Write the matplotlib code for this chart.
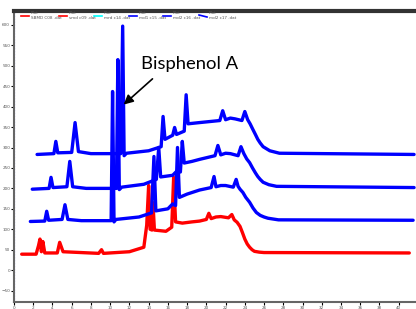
import matplotlib
matplotlib.use('Agg')
import matplotlib.pyplot as plt
from matplotlib.lines import Line2D

# Traces (time in min, signal)
red_t = [0.8, 2.3, 2.55, 2.7, 2.85, 3.0, 3.2, 4.5, 4.75, 5.1, 8.8, 9.1, 9.3, 12.0, 13.5,
         13.8, 14.0, 14.15, 14.35, 14.45, 14.6, 15.8, 16.4, 16.6, 16.8, 17.5, 18.5, 19.3, 20.0,
         20.26, 20.5, 21.0, 21.5, 22.3, 22.65, 22.9, 23.2, 23.5, 23.75, 24.0, 24.25, 24.5,
         24.75, 25.0, 25.5, 26.0, 41.1]
red_v = [39, 39, 60, 76, 45, 70, 42, 42, 68, 45, 41, 50, 41, 45, 56,
         110, 207, 100, 98, 165, 98, 95, 105, 227, 118, 115, 118, 120, 124,
         139, 126, 130, 131, 128, 136, 123, 117, 107, 92, 76, 64, 56,
         50, 46, 44, 43, 42]

b3_t = [1.7, 3.2, 3.4, 3.6, 5.0, 5.3, 5.6, 7.0, 10.1, 10.25, 10.4, 10.6, 13.0, 14.3,
        14.55, 14.75, 16.0, 16.5, 16.8, 17.0, 17.2, 18.0, 19.3, 20.5, 20.8, 21.0, 21.5, 22.0,
        22.8, 23.1, 23.3, 23.5, 23.8, 24.1, 24.5, 24.85, 25.2, 25.6, 26.0, 26.4, 27.5, 41.5]
b3_v = [119, 120, 144, 122, 124, 160, 124, 121, 121, 437, 118, 124, 130, 140,
        278, 145, 150, 162, 158, 300, 178, 186, 196, 202, 229, 204, 207, 207,
        203, 222, 205, 198, 190, 178, 166, 152, 141, 134, 130, 127, 123, 122]

b2_t = [1.9, 3.65, 3.85, 4.05, 5.5, 5.8, 6.1, 7.5, 10.65, 10.8, 10.95, 11.2, 13.5, 14.8,
        15.05, 15.25, 16.5, 17.0, 17.3, 17.5, 17.7, 18.5, 19.3, 20.9, 21.2, 21.5, 22.0, 22.5,
        23.3, 23.6, 23.9, 24.2, 24.5, 24.8, 25.1, 25.35, 25.6, 25.9, 26.5, 27.3, 41.6]
b2_v = [198, 200, 227, 202, 204, 266, 204, 200, 200, 515, 197, 203, 210, 222,
        300, 228, 232, 244, 240, 315, 262, 266, 271, 280, 305, 282, 286, 285,
        280, 302, 285, 272, 263, 250, 238, 229, 222, 215, 209, 205, 202]

b1_t = [2.4, 4.15, 4.35, 4.55, 6.0, 6.35, 6.7, 8.0, 11.1, 11.3, 11.45, 11.7, 14.0, 15.3,
        15.5, 15.7, 16.5, 16.7, 16.9, 17.7, 17.9, 18.1, 19.3, 21.4, 21.7, 22.0, 22.5, 23.0,
        23.7, 24.0, 24.3, 24.55, 24.8, 25.1, 25.35, 25.6, 25.9, 26.6, 27.6, 41.6]
b1_v = [283, 285, 315, 287, 288, 361, 290, 285, 285, 597, 280, 286, 292, 302,
        376, 320, 330, 349, 332, 340, 429, 358, 361, 366, 390, 368, 372, 370,
        366, 388, 368, 358, 346, 332, 320, 311, 302, 292, 286, 283]

legend_labels = ['Plot\nSBMD C08 .dat', 'Plot\nsmd c09 .dat', 'Plot\nmrd c14 .dat',
                 'Plot\nmd1 c15 .dat', 'Plot\nmd2 c16 .dat', 'Plot\nmd2 c17 .dat']
legend_colors = ['#ff0000', '#ff0000', '#00ffff', '#0000ff', '#0000ff', '#0000ff']

yticks = list(range(-50, 601, 50))
xticks = list(range(0, 41, 2))

fig = plt.figure(figsize=(4.16, 3.09), dpi=100)
ax = fig.add_axes([14 / 416, 7 / 309, 1 - 14 / 416, 291 / 309])

lw = 2.4
for tt, vv, c in [(red_t, red_v, '#ff0000'), (b3_t, b3_v, '#0000ff'),
                  (b2_t, b2_v, '#0000ff'), (b1_t, b1_v, '#0000ff')]:
    ax.plot(tt, vv, color=c, lw=lw, solid_joinstyle='round', solid_capstyle='round')

ax.set_xlim(0, 41.8)
ax.set_ylim(-78, 634)
ax.set_xticks(xticks)
ax.set_yticks(yticks)
ax.tick_params(axis='both', labelsize=3, labelcolor='#555555', length=2, width=0.8, pad=0.8)

for s in ['left', 'bottom']:
    ax.spines[s].set_color('#666666')
    ax.spines[s].set_linewidth(1.5)
ax.spines['top'].set_color('#333333')
ax.spines['top'].set_linewidth(3)
ax.spines['right'].set_visible(False)
ax.axvline(0, color='#0000ff', ls=':', lw=0.8)
ax.axhline(-78, color='#0000ff', ls=':', lw=0.8)

ax.text(13.2, 505, 'Bisphenol A', fontsize=13.3, family='Lato', va='center', ha='left')
ax.annotate('', xy=(11.4, 405), xytext=(14.4, 468),
            arrowprops=dict(arrowstyle='-|>', color='black', lw=1.2, mutation_scale=14,
                            shrinkA=0, shrinkB=0))

# Legend strip along the top
line_x = [21, 59, 94, 129, 163, 199]
for i in range(6):
    x0 = line_x[i] / 416
    if i == 5:
        fig.add_artist(Line2D([x0, x0 + 8 / 416], [1 - 15 / 309, 1 - 17 / 309],
                              color=legend_colors[i], lw=1.2))
    else:
        fig.add_artist(Line2D([x0, x0 + 8 / 416], [1 - 16 / 309, 1 - 16 / 309],
                              color=legend_colors[i], lw=1.2))
    fig.text(x0 + 10 / 416, 1 - 15.5 / 309, legend_labels[i], fontsize=3,
             color='#555555', va='center', ha='left', linespacing=1.3)

fig.savefig('out.png', dpi=100)
